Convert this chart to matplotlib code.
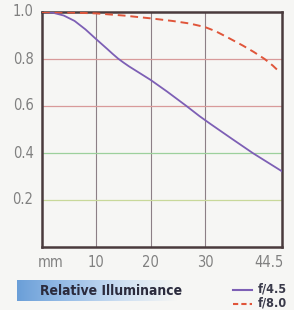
import matplotlib
matplotlib.use("Agg")
import matplotlib.pyplot as plt
import numpy as np
from matplotlib.colors import LinearSegmentedColormap

# Data
x_f45 = [0, 2, 4, 6, 8, 10, 12, 13, 14, 15, 16, 18, 20, 23, 26.6, 29, 31, 35, 38.8, 44.2]
y_f45 = [1.0, 0.997, 0.985, 0.962, 0.926, 0.884, 0.843, 0.822, 0.802, 0.785, 0.769, 0.740, 0.711,
         0.662, 0.60, 0.557, 0.524, 0.46, 0.40, 0.322]
x_f8 = [0, 5, 10, 15, 20, 24, 27.2, 30, 32, 34.5, 37, 39, 41, 42.5, 43.6]
y_f8 = [1.0, 0.998, 0.994, 0.985, 0.973, 0.962, 0.951, 0.936, 0.918, 0.888, 0.857, 0.830, 0.800,
        0.772, 0.748]
xtick_vals = [10, 20, 30]
xtick_labels = ["10", "20", "30"]
ytick_vals = [0.2, 0.4, 0.6, 0.8, 1.0]
ytick_labels = ["0.2", "0.4", "0.6", "0.8", "1.0"]
series_labels = ["f/4.5", "f/8.0"]
title = "Relative Illuminance"

fam = ["DejaVu Sans"]
stretch = "condensed"

bg = "#f6f6f4"
fig = plt.figure(figsize=(2.94, 3.10), dpi=100, facecolor=bg)
ax = fig.add_axes([42/294, 1-247/310, 240/294, 235/310])
ax.set_facecolor(bg)
ax.set_xlim(0, 44.2)
ax.set_ylim(0, 1.0)

# grid
for v in xtick_vals:
    ax.axvline(v, color="#8c7f86", lw=0.8, zorder=1)
for v, c in zip([0.8, 0.6, 0.4, 0.2], ["#d89a9a", "#d89a9a", "#9cd09c", "#c8d89a"]):
    ax.axhline(v, color=c, lw=0.9, zorder=1)

ax.plot(x_f45, y_f45, color="#7d5fb5", lw=1.3, zorder=3)
ax.plot(x_f8, y_f8, color="#e0553a", lw=1.4, ls=(0, (4, 2.5)), zorder=3)

for s in ax.spines.values():
    s.set_color("#4a3b3d")
    s.set_linewidth(1.8)
ax.set_xticks([])
ax.set_yticks([])

tk = dict(fontsize=10.5, color="#808080", family=fam, fontstretch=stretch, fontweight="light")
# y tick labels
for v, lab in zip(ytick_vals, ytick_labels):
    ax.text(-0.035, v, lab, transform=ax.get_yaxis_transform(), ha="right", va="center", **tk)
# x tick labels
ylab = -0.065
ax.text(9/240, ylab, "mm", transform=ax.transAxes, ha="center", va="center", **tk)
for v, lab in zip(xtick_vals, xtick_labels):
    ax.text(v, ylab, lab, transform=ax.get_xaxis_transform(), ha="center", va="center", **tk)
ax.text(1.005, ylab, "44.5", transform=ax.transAxes, ha="right", va="center", **tk)

# title bar with gradient
bar = fig.add_axes([17/294, 1-301/310, 160/294, 21/310])
grad = np.linspace(0, 1, 256)[None, :]
cmap = LinearSegmentedColormap.from_list("b", ["#6b9fd8", "#9cc0e8", "#cfe0f2", bg])
bar.imshow(grad, aspect="auto", cmap=cmap, extent=[0, 1, 0, 1])
bar.set_axis_off()
fig.text(40/294, 1-291/310, title, ha="left", va="center", fontsize=10,
         fontweight="bold", color="#2b2b3d", family=fam, fontstretch=stretch)

# legend
fig.lines.append(plt.Line2D([233/294, 252/294], [1-290/310, 1-290/310], transform=fig.transFigure,
                            color="#7d5fb5", lw=1.5))
fig.lines.append(plt.Line2D([233/294, 252/294], [1-304/310, 1-304/310], transform=fig.transFigure,
                            color="#e0553a", lw=1.5, ls=(0, (2.5, 1.5))))
lg = dict(ha="left", va="center", fontsize=9, fontweight="bold", color="#3a3a4a",
          family=fam, fontstretch=stretch)
fig.text(258/294, 1-289/310, series_labels[0], **lg)
fig.text(258/294, 1-303/310, series_labels[1], **lg)

fig.savefig("out.png", dpi=100, facecolor=bg)
